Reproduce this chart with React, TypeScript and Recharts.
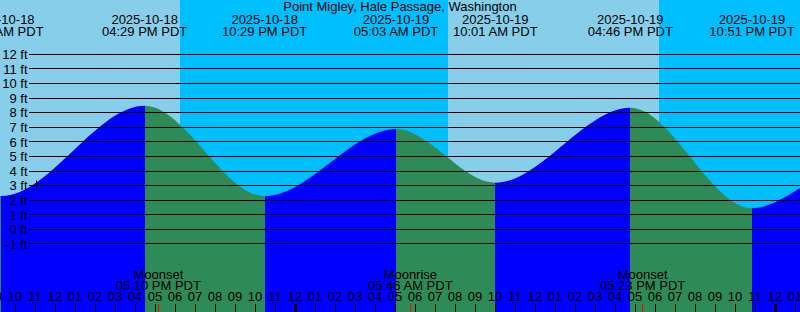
import {
  ComposedChart, Area, XAxis, YAxis, ReferenceArea, ReferenceLine, ReferenceDot,
} from "recharts";

const W = 800;
const H = 312;
const FONT = "'Liberation Sans', Arial, sans-serif";
const INK = "#000000";
const DAY_SKY = "#87CEEB";
const NIGHT_SKY = "#00BFFF";
const RISING = "#0000FF";
const FALLING = "#2E8B57";

const TITLE = "Point Migley, Hale Passage, Washington";
const TZ = "PDT";
const REF_DAY = "2025-10-19";

// window shown
const START_DATE = "2025-10-18";
const START_TIME = "09:15 AM";
const START_FEET = 2.31;
const END_DATE = "2025-10-20";
const END_TIME = "01:15 AM";
const END_FEET = 2.83;

// highs and lows
const HILO_DATES = ["2025-10-18", "2025-10-18", "2025-10-18", "2025-10-19", "2025-10-19", "2025-10-19", "2025-10-19"];
const HILO_TIMES = ["09:19 AM", "04:29 PM", "10:29 PM", "05:03 AM", "10:01 AM", "04:46 PM", "10:51 PM"];
const HILO_FEET = [2.29, 8.48, 2.28, 6.88, 3.2, 8.34, 1.45];

// sun
const SUN_DATES = ["2025-10-18", "2025-10-19", "2025-10-19"];
const SUN_TIMES = ["06:15 PM", "07:39 AM", "06:12 PM"];

// moon
const MOON_EVENTS = ["Moonset", "Moonrise", "Moonset"];
const MOON_DATES = ["2025-10-18", "2025-10-19", "2025-10-19"];
const MOON_TIMES = ["05:10 PM", "05:46 AM", "05:23 PM"];

// current level mark
const NOW_DATE = "2025-10-18";
const NOW_TIME = "11:06 AM";
const NOW_FEET = 3.0;

const FOOT_LINES = [-1, 0, 1, 2, 3, 4, 5, 6, 7, 8, 9, 10, 11, 12];
const Y_DOMAIN: [number, number] = [-5.66, 15.72];

function toHours(date: string, time: string) {
  const [y, mo, d] = date.split("-").map(Number);
  const [ry, rmo, rd] = REF_DAY.split("-").map(Number);
  const days = (Date.UTC(y, mo - 1, d) - Date.UTC(ry, rmo - 1, rd)) / 86400000;
  const [hm, ap] = time.split(" ");
  const [h, m] = hm.split(":").map(Number);
  return days * 24 + (h % 12) + (ap === "PM" ? 12 : 0) + m / 60;
}

function hourLabel(t: number) {
  const h = ((Math.round(t) % 24) + 24) % 24;
  const h12 = h % 12 === 0 ? 12 : h % 12;
  return String(h12).padStart(2, "0");
}

const T_START = toHours(START_DATE, START_TIME);
const T_END = toHours(END_DATE, END_TIME);

const hilo = HILO_TIMES.map((time, i) => ({
  t: toHours(HILO_DATES[i], time),
  ft: HILO_FEET[i],
  date: HILO_DATES[i],
  time,
}));

const tideData = [
  { t: T_START, ft: START_FEET },
  ...hilo.map((h) => ({ t: h.t, ft: h.ft })),
  { t: T_END, ft: END_FEET },
];

// gradient stops: blue while rising, green while falling
const stops: { offset: number; color: string }[] = [];
hilo.forEach((h, i) => {
  const prev = i === 0 ? START_FEET : hilo[i - 1].ft;
  const before = h.ft > prev ? RISING : FALLING;
  const after = before === RISING ? FALLING : RISING;
  const off = (h.t - T_START) / (T_END - T_START);
  if (i === 0) stops.push({ offset: 0, color: before });
  stops.push({ offset: off, color: before });
  stops.push({ offset: off, color: after });
  if (i === hilo.length - 1) stops.push({ offset: 1, color: after });
});

const sunT = SUN_TIMES.map((time, i) => toHours(SUN_DATES[i], time));
const skyBands = [T_START, ...sunT].map((t0, i, arr) => ({
  x1: t0,
  x2: i < arr.length - 1 ? arr[i + 1] : T_END,
  fill: i % 2 === 0 ? DAY_SKY : NIGHT_SKY,
}));

const hourTicks: number[] = [];
for (let t = Math.floor(T_START); t <= T_END; t++) hourTicks.push(t);

const textStyle = { fontFamily: FONT, fontSize: 13, fill: INK };

function hourTick(t: number) {
  return (p: any) => {
    const px = Math.round(p.x1);
    const bottom = Math.max(p.y1, p.y2);
    const h = ((t % 24) + 24) % 24;
    return (
      <g>
        <text x={px} y={bottom - 11} textAnchor="middle" {...textStyle}>{hourLabel(t)}</text>
        {h === 0 ? (
          <rect x={px - 1} y={bottom - 8} width={3} height={8} fill={INK} />
        ) : (
          <line x1={px + 0.5} x2={px + 0.5} y1={bottom - 8} y2={bottom} stroke={INK} />
        )}
      </g>
    );
  };
}

function footLine(v: number) {
  return (p: any) => {
    const y = Math.floor(p.y1) + 0.5;
    return (
      <g>
        <text x={p.x1 + 27.5} y={p.y1 + 4.7} textAnchor="end" {...textStyle}>{`${v} ft`}</text>
        <line x1={p.x1 + 29} x2={p.x2} y1={y} y2={y} stroke={INK} strokeWidth={1} />
      </g>
    );
  };
}

function tideLabel(date: string, time: string) {
  return (p: any) => {
    const top = Math.min(p.y1, p.y2);
    return (
      <g>
        <text x={p.x1} y={top + 24} textAnchor="middle" {...textStyle}>{date}</text>
        <text x={p.x1} y={top + 36} textAnchor="middle" {...textStyle}>{`${time} ${TZ}`}</text>
      </g>
    );
  };
}

function moonLabel(name: string, time: string) {
  return (p: any) => {
    const bottom = Math.max(p.y1, p.y2);
    const lx = Math.floor(p.x1) + 0.5;
    return (
      <g>
        <text x={p.x1} y={bottom - 33} textAnchor="middle" {...textStyle}>{name}</text>
        <text x={p.x1} y={bottom - 22} textAnchor="middle" {...textStyle}>{`${time} ${TZ}`}</text>
        <line x1={lx} x2={lx} y1={bottom - 8} y2={bottom} stroke="#FF0000" />
      </g>
    );
  };
}

function NowMark({ cx, cy }: any) {
  const x = Math.floor(cx) + 0.5;
  const y = Math.floor(cy) + 0.5;
  return (
    <g>
      <line x1={x - 5} x2={x + 5} y1={y} y2={y} stroke={INK} />
      <line x1={x} x2={x} y1={y - 5} y2={y + 5} stroke={INK} />
    </g>
  );
}

export default function App() {
  return (
    <div style={{ position: "relative", width: W, height: H }}>
      <style>{"body{margin:0}"}</style>
      <ComposedChart width={W} height={H} data={tideData} margin={{ top: 0, right: 0, bottom: 0, left: 0 }}>
        <defs>
          <linearGradient id="tideFill" x1="0" y1="0" x2="1" y2="0">
            {stops.map((s, i) => (
              <stop key={i} offset={s.offset} stopColor={s.color} />
            ))}
          </linearGradient>
        </defs>
        <XAxis dataKey="t" type="number" domain={[T_START, T_END]} allowDataOverflow hide />
        <YAxis type="number" domain={Y_DOMAIN} allowDataOverflow hide />
        {skyBands.map((b, i) => (
          <ReferenceArea key={`sky${i}`} x1={b.x1} x2={b.x2} fill={b.fill} fillOpacity={1} stroke="none" ifOverflow="hidden" zIndex={-100} />
        ))}
        <Area
          type="monotone"
          dataKey="ft"
          baseValue="dataMin"
          fill="url(#tideFill)"
          fillOpacity={1}
          stroke="none"
          dot={false}
          activeDot={false}
          isAnimationActive={false}
          zIndex={100}
        />
        {FOOT_LINES.map((v) => (
          <ReferenceLine key={`ft${v}`} y={v} shape={footLine(v)} zIndex={600} />
        ))}
        {hourTicks.map((t) => (
          <ReferenceLine key={`hr${t}`} x={t} shape={hourTick(t)} ifOverflow="visible" zIndex={600} />
        ))}
        {hilo.map((h, i) => (
          <ReferenceLine key={`hl${i}`} x={h.t} shape={tideLabel(h.date, h.time)} zIndex={600} />
        ))}
        {MOON_EVENTS.map((name, i) => (
          <ReferenceLine
            key={`moon${i}`}
            x={toHours(MOON_DATES[i], MOON_TIMES[i])}
            shape={moonLabel(name, MOON_TIMES[i])}
            zIndex={600}
          />
        ))}
        <ReferenceDot x={toHours(NOW_DATE, NOW_TIME)} y={NOW_FEET} shape={<NowMark />} zIndex={600} />
      </ComposedChart>
      <svg width={W} height={H} style={{ position: "absolute", left: 0, top: 0, pointerEvents: "none" }}>
        <text x={W / 2} y={11} textAnchor="middle" {...textStyle}>{TITLE}</text>
      </svg>
    </div>
  );
}
